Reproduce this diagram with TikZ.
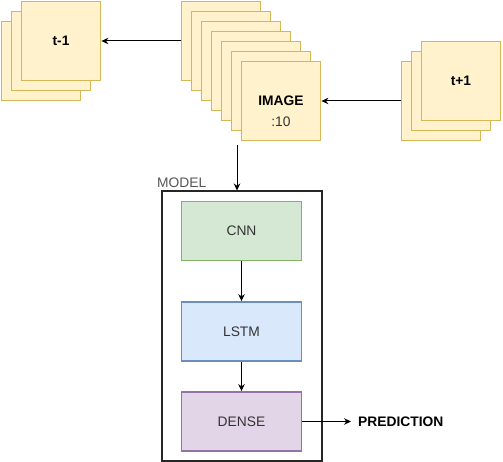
\documentclass[tikz,border=0pt]{standalone}
\usepackage{fontspec}
\setmainfont{Liberation Sans}
\usetikzlibrary{arrows.meta}
\definecolor{yfill}{HTML}{FFF2CC}
\definecolor{ystroke}{HTML}{D6B656}
\definecolor{gfill}{HTML}{D5E8D4}
\definecolor{gstroke}{HTML}{82B366}
\definecolor{bfill}{HTML}{DAE8FC}
\definecolor{bstroke}{HTML}{6C8EBF}
\definecolor{pfill}{HTML}{E1D5E7}
\definecolor{pstroke}{HTML}{9673A6}
\definecolor{txt}{HTML}{333333}
\definecolor{lbl}{HTML}{555555}
\tikzset{
  fnt/.style={font=\fontsize{13.8}{16}\selectfont},
  sq/.style={draw=ystroke, fill=yfill, line width=1.8pt, minimum width=79pt, minimum height=79pt, inner sep=0pt, font=\fontsize{13.8}{16}\selectfont\bfseries},
  blk/.style={line width=1.8pt, minimum width=120pt, minimum height=59pt, inner sep=0pt, text=txt, fnt},
  arr/.style={line width=1pt, -{Stealth[length=7pt,width=6.5pt]}},
}
\begin{document}
\begin{tikzpicture}[x=1pt,y=-1pt]
\useasboundingbox (0,0) rectangle (503,462);
% t-1 stack
\node[sq] (tm1a) at (41,61) {};
\node[sq] (tm1b) at (51,51) {};
\node[sq] (tm1c) at (61,41) {t-1};
% image stack
\node[sq] (img0) at (221,41) {};
\node[sq] (img1) at (231,51) {};
\node[sq] (img2) at (241,61) {};
\node[sq] (img3) at (251,71) {};
\node[sq] (img4) at (261,81) {};
\node[sq] (img5) at (271,91) {};
\node[sq] (img6) at (281,101) {IMAGE};
\node[inner sep=0pt, text=txt, fnt] (ten) at (281,122) {:10};
% t+1 stack
\node[sq] (tp1a) at (441,101) {};
\node[sq] (tp1b) at (451,91) {};
\node[sq] (tp1c) at (461,81) {t+1};
% model
\node[draw=black!85, line width=2pt, minimum width=160pt, minimum height=269pt, inner sep=0pt] (model) at (241.5,326) {};
\node[anchor=west, inner sep=0pt, text=lbl, fnt] (mlabel) at (157,183) {MODEL};
\node[blk, draw=gstroke, fill=gfill] (cnn) at (241.5,231) {CNN};
\node[blk, draw=bstroke, fill=bfill] (lstm) at (241.5,331.5) {LSTM};
\node[blk, draw=pstroke, fill=pfill] (dense) at (241.5,421.5) {DENSE};
\node[anchor=west, inner sep=0pt, font=\fontsize{13.8}{16}\selectfont\bfseries] (pred) at (358,421.5) {PREDICTION};
% connectors
\draw[arr] (img0.west) -- (tm1c.east);
\draw[arr] (tp1a.west) -- (img6.east);
\coordinate (imgout) at (237,145);
\draw[arr] (imgout) -- (imgout |- model.north);
\draw[arr] (cnn.south) -- (lstm.north);
\draw[arr] (lstm.south) -- (dense.north);
\draw[arr] (dense.east) -- ([xshift=-7pt]pred.west);
\end{tikzpicture}
\end{document}
